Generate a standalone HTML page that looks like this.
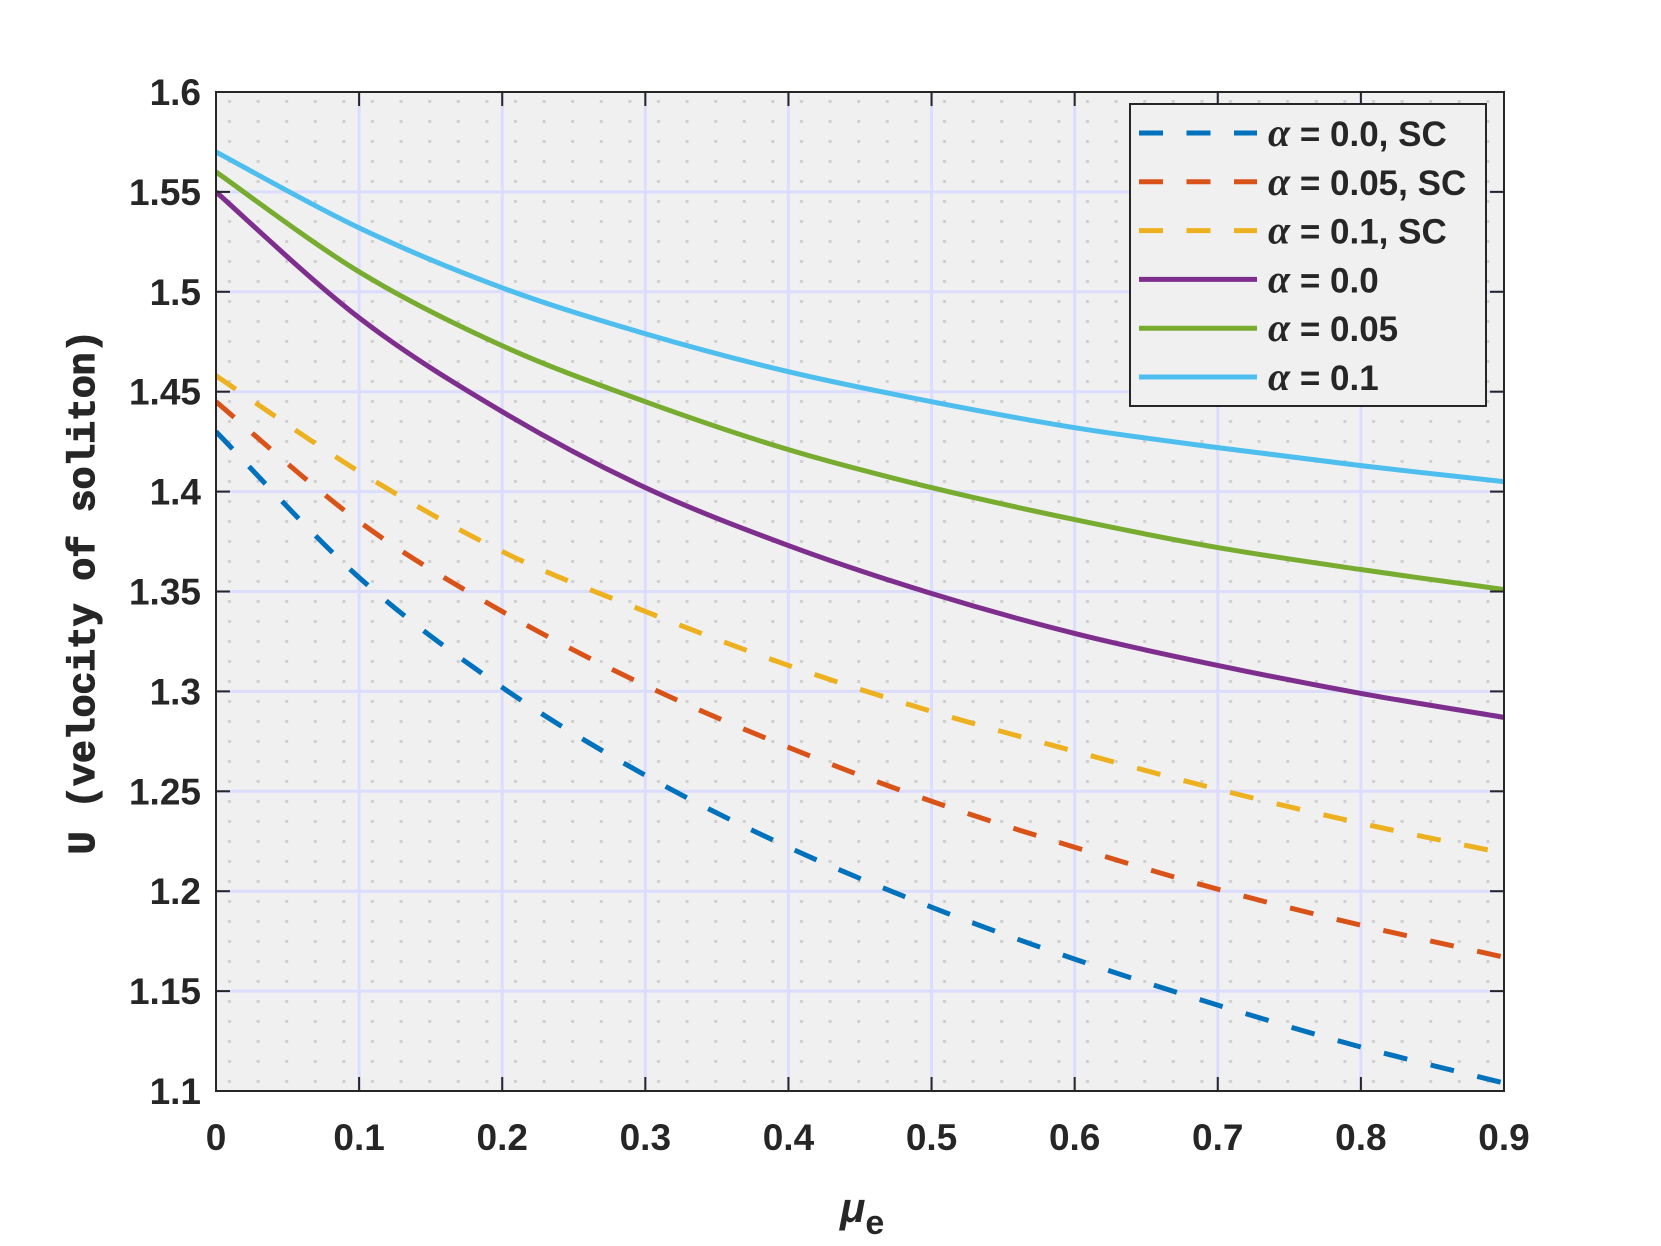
<!DOCTYPE html>
<html><head><meta charset="utf-8"><style>
html,body{margin:0;padding:0;background:#fff;}
svg{display:block;}
text{font-family:"Liberation Sans",Arial,sans-serif;font-weight:bold;fill:#262626;}
</style></head><body>
<svg id="chart" width="1661" height="1246" viewBox="0 0 1661 1246" xmlns="http://www.w3.org/2000/svg">
<defs>
<pattern id="dots" x="216" y="92" width="28.6" height="20" patternUnits="userSpaceOnUse">
<rect x="12" y="8" width="3" height="3" fill="#cfcfcf"/>
</pattern>
<clipPath id="clip"><rect x="216" y="92" width="1288" height="999"/></clipPath>
</defs>
<rect x="216" y="92" width="1288" height="999" fill="#f0f0f0"/>
<rect x="216" y="92" width="1288" height="999" fill="url(#dots)"/>
<g id="grid"></g>
<g id="series" clip-path="url(#clip)"></g>
<rect x="216" y="92" width="1288" height="999" fill="none" stroke="#262626" stroke-width="2"/>
<g id="ticks"></g>
<text x="840" y="1222" font-size="42" font-style="italic">μ<tspan font-size="34" font-style="normal" dy="12">e</tspan></text>
<text transform="translate(94,592) rotate(-90)" text-anchor="middle" font-size="38" stroke="#262626" stroke-width="1.2" style="font-family:'Liberation Mono',monospace;font-weight:bold">U (velocity of soliton)</text>
<g id="legend">
<rect x="1130" y="104" width="356" height="302" fill="#f0f0f0" stroke="#262626" stroke-width="2"/>
</g>
</svg>
<script>
const xTicks=[0,0.1,0.2,0.3,0.4,0.5,0.6,0.7,0.8,0.9];
const xTickLabels=["0","0.1","0.2","0.3","0.4","0.5","0.6","0.7","0.8","0.9"];
const yTicks=[1.1,1.15,1.2,1.25,1.3,1.35,1.4,1.45,1.5,1.55,1.6];
const yTickLabels=["1.1","1.15","1.2","1.25","1.3","1.35","1.4","1.45","1.5","1.55","1.6"];
const mu=[0,0.1,0.2,0.3,0.4,0.5,0.6,0.7,0.8,0.9];
const sc0=[1.43,1.357,1.302,1.258,1.222,1.192,1.166,1.143,1.122,1.104];
const sc05=[1.445,1.385,1.34,1.303,1.272,1.245,1.222,1.201,1.183,1.167];
const sc1=[1.458,1.41,1.37,1.34,1.313,1.29,1.27,1.251,1.234,1.219];
const a0=[1.55,1.487,1.44,1.402,1.373,1.349,1.329,1.313,1.299,1.287];
const a05=[1.56,1.51,1.473,1.445,1.421,1.402,1.386,1.372,1.361,1.351];
const a1=[1.57,1.532,1.502,1.479,1.46,1.445,1.432,1.422,1.413,1.405];
const seriesNames=["α = 0.0, SC","α = 0.05, SC","α = 0.1, SC","α = 0.0","α = 0.05","α = 0.1"];
const seriesColors=["#0072bd","#d95319","#edb120","#7e2f8e","#77ac30","#4dbeee"];
const seriesDashed=[true,true,true,false,false,false];
const seriesData=[sc0,sc05,sc1,a0,a05,a1];
const X0=216,X1=1504,Y0=1091,Y1=92;
const sx=v=>X0+(v-0)/(0.9-0)*(X1-X0);
const sy=v=>Y0-(v-1.1)/(1.6-1.1)*(Y0-Y1);
const NS="http://www.w3.org/2000/svg";
function mk(t,a,p){const e=document.createElementNS(NS,t);for(const k in a)e.setAttribute(k,a[k]);p.appendChild(e);return e;}
const grid=document.getElementById('grid'),ticks=document.getElementById('ticks');
xTicks.forEach((v,i)=>{const x=sx(v);
 if(i>0&&i<xTicks.length-1){const g=mk('line',{x1:x,x2:x,y1:Y1,y2:Y0,stroke:'#dcdcff','stroke-width':3},grid);
 
 }
 const t1=mk('line',{x1:x,x2:x,y1:Y0,y2:Y0-14,stroke:'#262626','stroke-width':2},ticks);
 
 
 const t2=mk('line',{x1:x,x2:x,y1:Y1,y2:Y1+14,stroke:'#262626','stroke-width':2},ticks);
 
 
 const l=mk('text',{x:x,y:1150,'text-anchor':'middle','font-size':37},ticks);l.textContent=xTickLabels[i];
 
 
});
yTicks.forEach((v,i)=>{const y=sy(v);
 if(i>0&&i<yTicks.length-1){const g=mk('line',{x1:X0,x2:X1,y1:y,y2:y,stroke:'#dcdcff','stroke-width':3},grid);
 
 }
 const t1=mk('line',{x1:X0,x2:X0+14,y1:y,y2:y,stroke:'#262626','stroke-width':2},ticks);
 
 
 const t2=mk('line',{x1:X1,x2:X1-14,y1:y,y2:y,stroke:'#262626','stroke-width':2},ticks);
 
 
 const l=mk('text',{x:201,y:y+13,'text-anchor':'end','font-size':37},ticks);l.textContent=yTickLabels[i];
 
 
});
function smooth(pts){let d='M'+pts[0][0]+','+pts[0][1];
 for(let i=0;i<pts.length-1;i++){const p0=pts[i-1]||pts[i],p1=pts[i],p2=pts[i+1],p3=pts[i+2]||p2;
 const c1=[p1[0]+(p2[0]-p0[0])/6,p1[1]+(p2[1]-p0[1])/6],c2=[p2[0]-(p3[0]-p1[0])/6,p2[1]-(p3[1]-p1[1])/6];
 d+=' C'+c1+' '+c2+' '+p2;}return d;}
const sg=document.getElementById('series'),lg=document.getElementById('legend');
seriesData.forEach((arr,k)=>{
 const pts=arr.map((v,i)=>[sx(mu[i]),sy(v)]);
 const a={d:smooth(pts),fill:'none',stroke:seriesColors[k],'stroke-width':5};
 if(seriesDashed[k])a['stroke-dasharray']='24 24';
 const p=mk('path',a,sg);
 
 
 const ly=133+k*48.8;
 const la={x1:1139,x2:1257,y1:ly,y2:ly,stroke:seriesColors[k],'stroke-width':5};
 if(seriesDashed[k])la['stroke-dasharray']='24 23.5';
 const ls=mk('line',la,lg);
 
 
 const t=mk('text',{x:1268,y:ly+13,'font-size':35},lg);
 t.innerHTML='<tspan font-family="Liberation Serif" font-style="italic" font-size="40">α</tspan>'+seriesNames[k].slice(1);
 
 
});
</script>
</body></html>
